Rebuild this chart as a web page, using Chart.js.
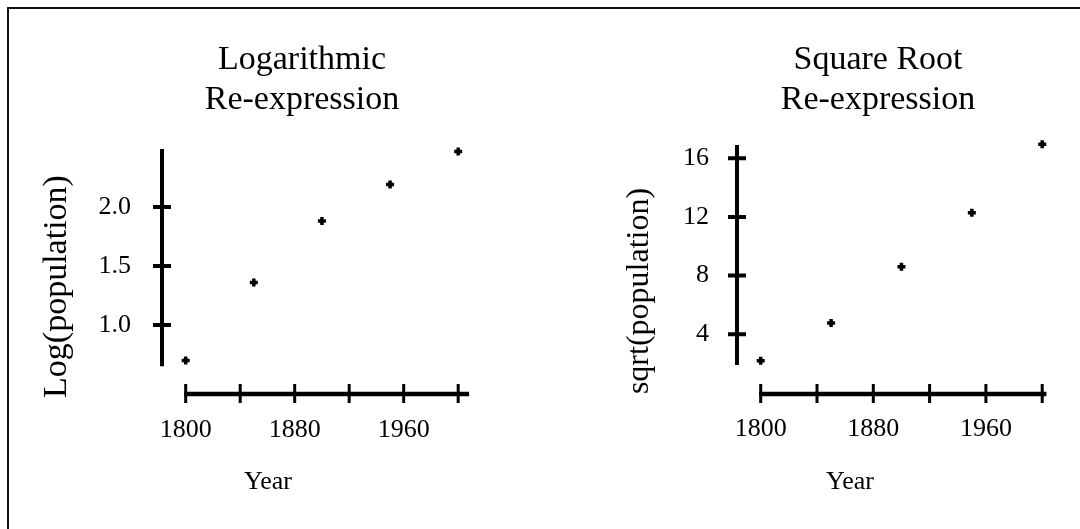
<!DOCTYPE html>
<html>
<head>
<meta charset="utf-8">
<title>Re-expression</title>
<script src="https://cdn.jsdelivr.net/npm/chart.js@4.4.0/dist/chart.umd.min.js"></script>
<style>
  html, body { margin: 0; padding: 0; background: #fff; }
  body { width: 1080px; height: 529px; position: relative; overflow: hidden; }
  .frame { position: absolute; left: 7px; top: 7px; width: 1200px; height: 600px;
           border-top: 2px solid #111; border-left: 2px solid #111; }
  canvas { position: absolute; top: 10px; }
  #logChart { left: 8px; }
  #sqrtChart { left: 600px; }
</style>
</head>
<body>
<div class="frame"></div>
<canvas id="logChart" width="520" height="519"></canvas>
<canvas id="sqrtChart" width="500" height="519"></canvas>
<script>
// values
const years = [1800, 1850, 1900, 1950, 2000];
const logPopulation = [0.70, 1.36, 1.88, 2.19, 2.47];
const sqrtPopulation = [2.2, 4.77, 8.61, 12.29, 16.95];

const yearTicks = [1800, 1840, 1880, 1920, 1960, 2000];
const yearLabels = [1800, 1880, 1960];
const logTicks = [1.0, 1.5, 2.0];
const sqrtTicks = [4, 8, 12, 16];

Chart.defaults.font.family = '"Liberation Serif", "Times New Roman", serif';
Chart.defaults.color = "#000";

// axis lines that only cover the data range, ticks crossing the line
const rangeFrame = {
  id: "rangeFrame",
  beforeDatasetsDraw(chart, args, o) {
    const { ctx, scales } = chart;
    const ax = Math.round(scales.x.getPixelForValue(o.yAxisAt));
    const ay = Math.round(scales.y.getPixelForValue(o.xAxisAt));
    ctx.save();
    ctx.strokeStyle = "#000";

    ctx.lineWidth = 4;
    ctx.beginPath();
    ctx.moveTo(ax, scales.y.getPixelForValue(o.yRange[0]));
    ctx.lineTo(ax, scales.y.getPixelForValue(o.yRange[1]));
    o.yTicks.forEach(v => {
      const py = scales.y.getPixelForValue(v);
      ctx.moveTo(ax - 9, py);
      ctx.lineTo(ax + 9, py);
    });
    ctx.stroke();

    ctx.lineWidth = 4.5;
    ctx.beginPath();
    ctx.moveTo(scales.x.getPixelForValue(o.xRange[0]) - 1.5, ay);
    ctx.lineTo(scales.x.getPixelForValue(o.xRange[1]), ay);
    ctx.stroke();

    ctx.lineWidth = 3;
    ctx.beginPath();
    o.xTicks.forEach(v => {
      const px = scales.x.getPixelForValue(v);
      ctx.moveTo(px, ay - 10);
      ctx.lineTo(px, ay + 9);
    });
    ctx.stroke();
    ctx.restore();
  }
};

function reexpressionChart(id, values, o) {
  return new Chart(document.getElementById(id), {
    type: "scatter",
    data: {
      datasets: [{
        data: years.map((yr, i) => ({ x: yr, y: values[i] })),
        pointStyle: "cross",
        pointRadius: 4,
        borderWidth: 3.5,
        borderColor: "#000",
        backgroundColor: "#000",
        clip: false
      }]
    },
    options: {
      responsive: false,
      animation: false,
      events: [],
      layout: { padding: { left: o.padLeft, top: 0, right: o.padRight, bottom: 0 } },
      plugins: {
        legend: { display: false },
        tooltip: { enabled: false },
        title: {
          display: true,
          text: o.title,
          fullSize: false,
          color: "#000",
          font: { size: 34, weight: "normal", lineHeight: "40px" },
          padding: { top: 30, bottom: o.titleGap }
        },
        subtitle: {
          display: true,
          position: "bottom",
          text: "Year",
          color: "#000",
          font: { size: 26, lineHeight: "30px" },
          padding: { top: o.yearGap, bottom: 32 }
        },
        rangeFrame: {
          yAxisAt: o.yAxisAt,
          xAxisAt: o.xAxisAt,
          xRange: o.xRange,
          yRange: o.yRange,
          xTicks: yearTicks,
          yTicks: o.yTicks
        }
      },
      scales: {
        x: {
          type: "linear",
          min: o.xMin,
          max: o.xMax,
          bounds: "data",
          grid: { display: false },
          border: { display: false },
          ticks: {
            mirror: true,
            padding: o.xTickPad,
            maxRotation: 0,
            font: { size: 26 },
            color: "#000",
            callback: v => String(v)
          },
          afterBuildTicks: s => { s.ticks = yearLabels.map(v => ({ value: v })); },
          afterFit: s => { s.height = 20; }
        },
        y: {
          type: "linear",
          min: o.yMin,
          max: o.yMax,
          bounds: "data",
          grid: { display: false },
          border: { display: false },
          ticks: {
            padding: o.yTickPad,
            font: { size: 26 },
            color: "#000",
            callback: o.yFormat
          },
          afterBuildTicks: s => { s.ticks = o.yTicks.map(v => ({ value: v })); },
          afterFit: s => { s.width = o.yWidth; },
          title: {
            display: true,
            text: o.yTitle,
            color: "#000",
            font: { size: o.yTitleSize, lineHeight: "40px" },
            padding: { top: o.yTitlePad, bottom: 0 }
          }
        }
      }
    },
    plugins: [rangeFrame]
  });
}

reexpressionChart("logChart", logPopulation, {
  title: ["Logarithmic", "Re-expression"],
  titleGap: 27,
  yearGap: 21,
  padLeft: 66,
  padRight: 66,
  xMin: 1767.93, xMax: 2002.8,
  yMin: 0.144, yMax: 2.508,
  yAxisAt: 1782.6,
  xAxisAt: 0.415,
  xRange: [1800, 2008],
  yRange: [0.65, 2.49],
  yTicks: logTicks,
  yFormat: v => v.toFixed(1),
  yTickPad: 3,
  xTickPad: -20,
  yWidth: 68,
  yTitle: "Log(population)",
  yTitleSize: 34,
  yTitlePad: -37
});

reexpressionChart("sqrtChart", sqrtPopulation, {
  title: ["Square Root", "Re-expression"],
  titleGap: 30,
  yearGap: 15,
  padLeft: 62,
  padRight: 62,
  xMin: 1769.66, xMax: 1997.01,
  yMin: -2.66, yMax: 16.563,
  yAxisAt: 1783.16,
  xAxisAt: -0.07,
  xRange: [1800, 2003],
  yRange: [1.9, 16.9],
  yTicks: sqrtTicks,
  yFormat: v => String(v),
  yTickPad: 1,
  xTickPad: -13,
  yWidth: 56,
  yTitle: "sqrt(population)",
  yTitleSize: 32,
  yTitlePad: -42
});
</script>
</body>
</html>
